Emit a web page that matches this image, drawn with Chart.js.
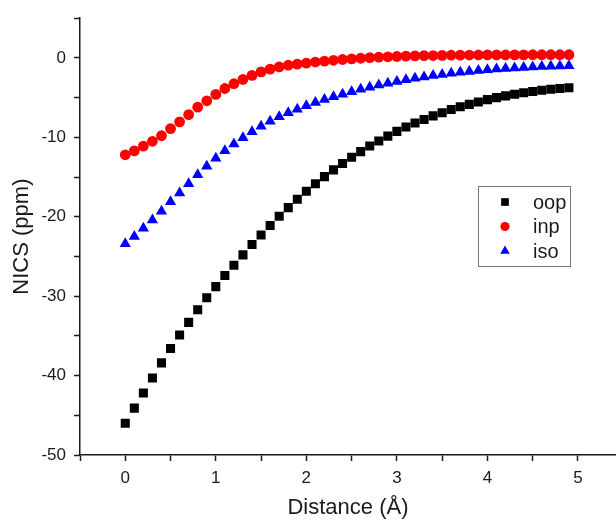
<!DOCTYPE html>
<html>
<head>
<meta charset="utf-8">
<script src="https://cdn.jsdelivr.net/npm/chart.js@4"></script>
<style>
  html, body { margin: 0; padding: 0; background: #fff; }
  #wrap { width: 616px; height: 521px; }
</style>
</head>
<body>
<div id="wrap"><canvas id="myChart" width="616" height="521"></canvas></div>
<script>
// distance from ring centre, 0 .. 4.9 in 0.1 steps
var distance = [0, 0.1, 0.2, 0.3, 0.4, 0.5, 0.6, 0.7, 0.8, 0.9,
  1.0, 1.1, 1.2, 1.3, 1.4, 1.5, 1.6, 1.7, 1.8, 1.9,
  2.0, 2.1, 2.2, 2.3, 2.4, 2.5, 2.6, 2.7, 2.8, 2.9,
  3.0, 3.1, 3.2, 3.3, 3.4, 3.5, 3.6, 3.7, 3.8, 3.9,
  4.0, 4.1, 4.2, 4.3, 4.4, 4.5, 4.6, 4.7, 4.8, 4.9];

var oop = [-46.0, -44.1, -42.2, -40.3, -38.4, -36.6, -34.9, -33.3, -31.7, -30.2,
  -28.8, -27.4, -26.1, -24.8, -23.5, -22.3, -21.1, -19.95, -18.85, -17.8,
  -16.8, -15.85, -14.95, -14.1, -13.3, -12.5, -11.8, -11.1, -10.45, -9.85,
  -9.25, -8.7, -8.2, -7.75, -7.3, -6.9, -6.5, -6.15, -5.85, -5.55,
  -5.25, -5.0, -4.78, -4.57, -4.38, -4.22, -4.08, -3.95, -3.85, -3.75];

var inp = [-12.2, -11.7, -11.1, -10.5, -9.8, -8.9, -8.05, -7.15, -6.2, -5.4,
  -4.6, -3.85, -3.25, -2.7, -2.2, -1.76, -1.42, -1.13, -0.92, -0.78,
  -0.65, -0.52, -0.4, -0.3, -0.2, -0.12, -0.04, 0.03, 0.09, 0.14,
  0.18, 0.22, 0.25, 0.28, 0.3, 0.32, 0.34, 0.35, 0.36, 0.37,
  0.38, 0.38, 0.39, 0.39, 0.39, 0.4, 0.4, 0.4, 0.4, 0.4];

var iso = [-23.4, -22.5, -21.45, -20.4, -19.3, -18.1, -17.0, -15.85, -14.7, -13.65,
  -12.65, -11.7, -10.85, -10.05, -9.3, -8.6, -7.98, -7.4, -6.9, -6.45,
  -6.03, -5.63, -5.25, -4.9, -4.57, -4.25, -3.96, -3.68, -3.42, -3.19,
  -2.96, -2.75, -2.57, -2.4, -2.23, -2.09, -1.94, -1.82, -1.71, -1.6,
  -1.5, -1.41, -1.33, -1.26, -1.2, -1.14, -1.09, -1.05, -1.02, -0.98];

var seriesNames = ['oop', 'inp', 'iso'];
var xTickLabels = [0, 1, 2, 3, 4, 5];
var yTickLabels = [-50, -40, -30, -20, -10, 0];

var FONT = '"Liberation Sans", Arial, sans-serif';
var INK = '#1a1a1a';

function pts(ys) {
    return distance.map(function (x, i) { return { x: x, y: ys[i] }; });
}

// legend box sitting inside the plot, like the original
var boxLegend = {
    id: 'boxLegend',
    afterDraw: function (chart) {
        var ctx = chart.ctx;
        var left = 478, top = 186, w = 92, h = 80;
        ctx.save();
        ctx.strokeStyle = '#777';
        ctx.lineWidth = 1;
        ctx.strokeRect(left + 0.5, top + 0.5, w, h);
        ctx.font = '20px ' + FONT;
        ctx.textBaseline = 'middle';
        chart.data.datasets.forEach(function (ds, i) {
            var y = top + 16 + i * 24.5;
            ctx.fillStyle = ds.backgroundColor;
            ctx.strokeStyle = ds.backgroundColor;
            Chart.helpers.drawPoint(ctx, {
                pointStyle: ds.pointStyle,
                radius: ds.pointRadius * 0.85,
                borderWidth: 0,
                rotation: 0
            }, left + 27, y);
            ctx.fillStyle = INK;
            ctx.fillText(ds.label, left + 55, y + 1);
        });
        ctx.restore();
    }
};

const ctx = document.getElementById('myChart').getContext('2d');
const myChart = new Chart(ctx, {
    type: 'scatter',
    data: {
        datasets: [{
            label: seriesNames[0],
            data: pts(oop),
            pointStyle: 'rect',
            pointRadius: 6.4,
            backgroundColor: '#000000',
            borderColor: '#000000',
            borderWidth: 0
        }, {
            label: seriesNames[1],
            data: pts(inp),
            pointStyle: 'circle',
            pointRadius: 5.4,
            backgroundColor: '#ff0000',
            borderColor: '#ff0000',
            borderWidth: 0
        }, {
            label: seriesNames[2],
            data: pts(iso),
            pointStyle: 'triangle',
            pointRadius: 6.5,
            backgroundColor: '#0000ff',
            borderColor: '#0000ff',
            borderWidth: 0
        }]
    },
    options: {
        responsive: false,
        animation: false,
        layout: { autoPadding: false, padding: { top: 16, right: 0, left: 0, bottom: 0 } },
        plugins: {
            legend: { display: false },
            tooltip: { enabled: false }
        },
        scales: {
            x: {
                type: 'linear',
                min: -0.5,
                max: 5.42,
                afterFit: function (s) {
                    s.height = 66;
                    s.paddingRight = 0;
                    s.paddingLeft = 0;
                },
                border: { color: INK, width: 1.5 },
                grid: { drawOnChartArea: false, tickLength: 6, tickColor: INK, tickWidth: 1.5 },
                ticks: {
                    stepSize: 0.5,
                    includeBounds: false,
                    padding: 7,
                    color: INK,
                    font: { size: 17, family: FONT },
                    callback: function (v) { return xTickLabels.indexOf(v) >= 0 ? String(v) : ''; }
                },
                title: {
                    display: true,
                    text: 'Distance (Å)',
                    color: INK,
                    font: { size: 22, family: FONT },
                    padding: { top: 0, bottom: 0 }
                }
            },
            y: {
                type: 'linear',
                min: -50,
                max: 5,
                afterFit: function (s) { s.width = 80; },
                border: { color: INK, width: 1.5 },
                grid: { drawOnChartArea: false, tickLength: 6, tickColor: INK, tickWidth: 1.5 },
                ticks: {
                    stepSize: 5,
                    padding: 8,
                    color: INK,
                    font: { size: 17, family: FONT },
                    callback: function (v) { return yTickLabels.indexOf(v) >= 0 ? String(v) : ''; }
                },
                title: {
                    display: true,
                    text: 'NICS (ppm)',
                    color: INK,
                    font: { size: 22, family: FONT },
                    padding: { top: 9, bottom: 0 }
                }
            }
        }
    },
    plugins: [boxLegend]
});
</script>
</body>
</html>
